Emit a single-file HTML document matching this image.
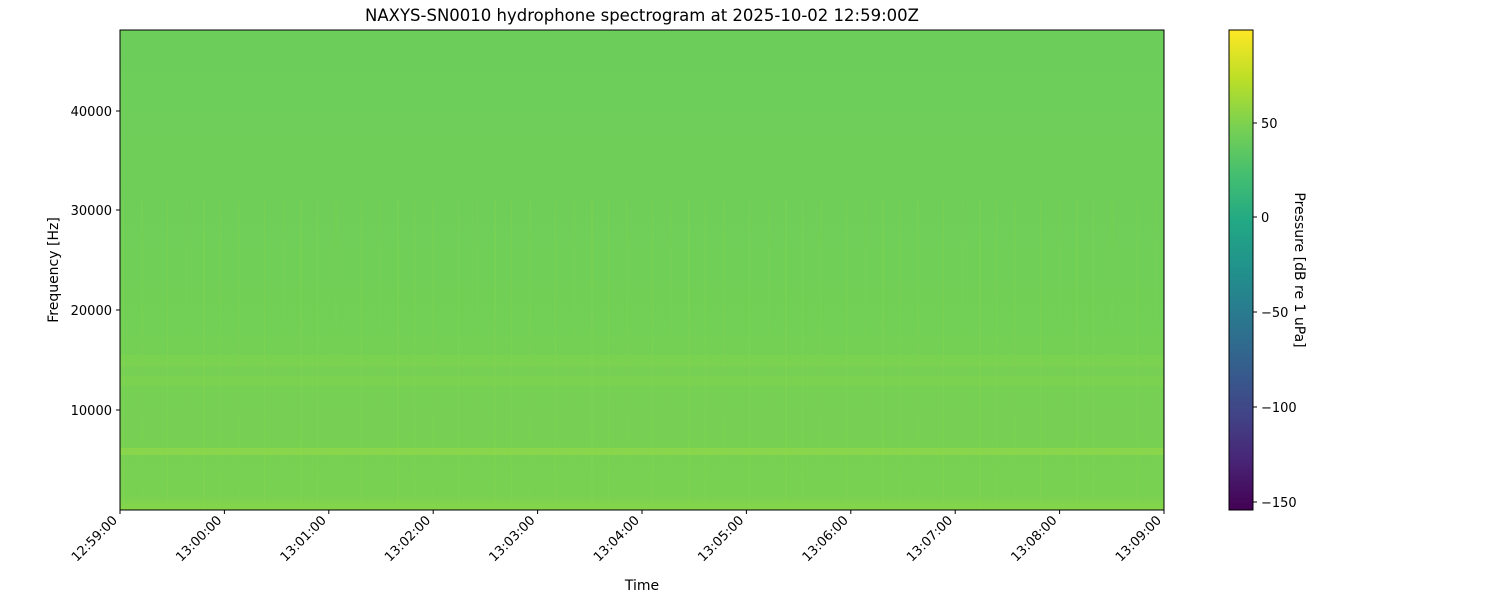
<!DOCTYPE html>
<html><head><style>
body{margin:0;background:#fff;width:1500px;height:600px;overflow:hidden;font-family:"Liberation Sans","DejaVu Sans",sans-serif;}
</style></head><body>
<svg width="1500" height="600" xmlns="http://www.w3.org/2000/svg" font-family="DejaVu Sans, Liberation Sans, sans-serif" font-size="13">
<defs>
<linearGradient id="bg" x1="0" y1="0" x2="0" y2="1">
<stop offset="0" stop-color="#6ccd5a"/>
<stop offset="0.5" stop-color="#70cf57"/>
<stop offset="0.75" stop-color="#76d054"/>
<stop offset="0.97" stop-color="#79d152"/>
<stop offset="1" stop-color="#86d549"/>
</linearGradient>
<linearGradient id="vir" x1="0" y1="1" x2="0" y2="0">
<stop offset="0" stop-color="#440154"/>
<stop offset="0.1" stop-color="#482475"/>
<stop offset="0.2" stop-color="#414487"/>
<stop offset="0.3" stop-color="#355f8d"/>
<stop offset="0.4" stop-color="#2a788e"/>
<stop offset="0.5" stop-color="#21918c"/>
<stop offset="0.6" stop-color="#22a884"/>
<stop offset="0.7" stop-color="#44bf70"/>
<stop offset="0.8" stop-color="#7ad151"/>
<stop offset="0.9" stop-color="#bddf26"/>
<stop offset="1" stop-color="#fde725"/>
</linearGradient>
<pattern id="stripes" x="120" y="0" width="97" height="480" patternUnits="userSpaceOnUse">
<rect x="3" y="0" width="1" height="480" fill="#8ad64a" opacity="0.25"/>
<rect x="21" y="0" width="2" height="480" fill="#84d44c" opacity="0.2"/>
<rect x="47" y="0" width="1" height="480" fill="#8ed74a" opacity="0.25"/>
<rect x="66" y="0" width="1" height="480" fill="#86d44c" opacity="0.2"/>
<rect x="83" y="0" width="2" height="480" fill="#8ad64a" opacity="0.2"/>
</pattern>
</defs>
<text x="642" y="21" text-anchor="middle" font-size="16.5">NAXYS-SN0010 hydrophone spectrogram at 2025-10-02 12:59:00Z</text>
<rect x="120" y="30" width="1044" height="480" fill="url(#bg)"/>
<rect x="120" y="200" width="1044" height="310" fill="url(#stripes)"/>
<rect x="120" y="355" width="1044" height="12" fill="#88d64a" opacity="0.35"/>
<rect x="120" y="376" width="1044" height="10" fill="#88d64a" opacity="0.3"/>
<rect x="120" y="448" width="1044" height="7" fill="#9ad943" opacity="0.5"/>
<rect x="120" y="30" width="1044" height="480" fill="none" stroke="#000" stroke-width="1"/>
<g stroke="#000">
<line x1="116" y1="111" x2="120" y2="111"/><line x1="116" y1="210" x2="120" y2="210"/>
<line x1="116" y1="310" x2="120" y2="310"/><line x1="116" y1="410" x2="120" y2="410"/>
</g>
<g text-anchor="end">
<text x="112" y="116">40000</text><text x="112" y="215">30000</text>
<text x="112" y="315">20000</text><text x="112" y="415">10000</text>
</g>
<text transform="translate(58,270) rotate(-90)" text-anchor="middle" font-size="14">Frequency [Hz]</text>
<g stroke="#000">
<line x1="120" y1="510" x2="120" y2="514"/><line x1="224.4" y1="510" x2="224.4" y2="514"/>
<line x1="328.8" y1="510" x2="328.8" y2="514"/><line x1="433.2" y1="510" x2="433.2" y2="514"/>
<line x1="537.6" y1="510" x2="537.6" y2="514"/><line x1="642" y1="510" x2="642" y2="514"/>
<line x1="746.4" y1="510" x2="746.4" y2="514"/><line x1="850.8" y1="510" x2="850.8" y2="514"/>
<line x1="955.2" y1="510" x2="955.2" y2="514"/><line x1="1059.6" y1="510" x2="1059.6" y2="514"/>
<line x1="1164" y1="510" x2="1164" y2="514"/>
</g>
<g text-anchor="end">
<text transform="translate(118,521) rotate(-45)">12:59:00</text>
<text transform="translate(222.4,521) rotate(-45)">13:00:00</text>
<text transform="translate(326.8,521) rotate(-45)">13:01:00</text>
<text transform="translate(431.2,521) rotate(-45)">13:02:00</text>
<text transform="translate(535.6,521) rotate(-45)">13:03:00</text>
<text transform="translate(640,521) rotate(-45)">13:04:00</text>
<text transform="translate(744.4,521) rotate(-45)">13:05:00</text>
<text transform="translate(848.8,521) rotate(-45)">13:06:00</text>
<text transform="translate(953.2,521) rotate(-45)">13:07:00</text>
<text transform="translate(1057.6,521) rotate(-45)">13:08:00</text>
<text transform="translate(1162,521) rotate(-45)">13:09:00</text>
</g>
<text x="642" y="590" text-anchor="middle" font-size="14">Time</text>
<rect x="1229" y="30" width="24" height="480" fill="url(#vir)" stroke="#000" stroke-width="1"/>
<g stroke="#000">
<line x1="1253" y1="123" x2="1257" y2="123"/><line x1="1253" y1="217" x2="1257" y2="217"/>
<line x1="1253" y1="312" x2="1257" y2="312"/><line x1="1253" y1="407" x2="1257" y2="407"/>
<line x1="1253" y1="502" x2="1257" y2="502"/>
</g>
<text x="1261" y="128">50</text><text x="1261" y="222">0</text>
<text x="1261" y="317">−50</text><text x="1261" y="412">−100</text><text x="1261" y="507">−150</text>
<text transform="translate(1295,270) rotate(90)" text-anchor="middle" font-size="14">Pressure [dB re 1 uPa]</text>
</svg>
</body></html>
